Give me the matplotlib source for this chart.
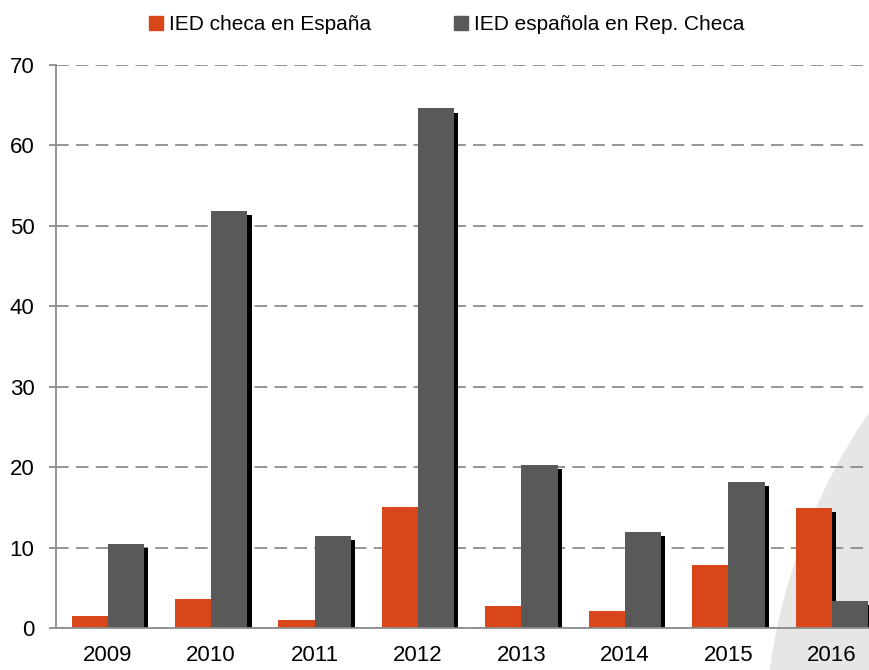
import matplotlib.pyplot as plt
import matplotlib.patheffects as pe
from matplotlib.patches import Ellipse
from matplotlib.lines import Line2D
import numpy as np

years = ['2009', '2010', '2011', '2012', '2013', '2014', '2015', '2016']
ied_checa = [1.5, 3.6, 1.0, 15.0, 2.7, 2.1, 7.8, 14.9]
ied_espanola = [10.5, 51.9, 11.5, 64.6, 20.3, 11.9, 18.2, 3.4]
yticks = [0, 10, 20, 30, 40, 50, 60, 70]

orange = '#d9461a'
gray = '#595959'

plt.rcParams['font.family'] = ['Liberation Sans', 'DejaVu Sans']

fig = plt.figure(figsize=(8.7, 6.7), dpi=100)

# light grey decoration in the lower right corner
r = 601
deco = Ellipse((1365 / 870, 1 - 752 / 670), 2 * r / 870, 2 * r / 670,
               transform=fig.transFigure, facecolor='#e6e6e6', edgecolor='none', zorder=-5)
fig.patches.append(deco)

ax = fig.add_axes([56 / 870, 1 - 628 / 670, 1 - 56 / 870, (628 - 65) / 670])
ax.patch.set_alpha(0)

x = np.arange(len(years))
w = 0.35
shadow = [pe.SimplePatchShadow(offset=(3, -3), shadow_rgbFace='black', alpha=1.0), pe.Normal()]
ax.bar(x - w / 2, ied_checa, w, color=orange, zorder=3, path_effects=shadow)
ax.bar(x + w / 2, ied_espanola, w, color=gray, zorder=4, path_effects=shadow)

ax.set_xlim(-0.5, 7.37)
ax.set_ylim(0, 70)
ax.set_yticks(yticks)
ax.set_xticks(x)
ax.set_xticklabels(years)
ax.yaxis.grid(True, linestyle=(0, (7, 4)), color='#8c8c8c', linewidth=1.3, zorder=1)
ax.set_axisbelow(True)

for s in ['top', 'right']:
    ax.spines[s].set_visible(False)
ax.spines['left'].set_color('#8c8c8c')
ax.spines['bottom'].set_color('#8c8c8c')
ax.spines['left'].set_linewidth(1.3)
ax.spines['bottom'].set_linewidth(1.3)
ax.spines['bottom'].set_zorder(5)
ax.tick_params(axis='y', length=5, color='#8c8c8c', width=1.3, labelsize=16, pad=10.5)
ax.tick_params(axis='x', length=0, labelsize=16, pad=12)

handles = [Line2D([], [], marker='s', linestyle='none', color=orange, markersize=9.4),
           Line2D([], [], marker='s', linestyle='none', color=gray, markersize=9.4)]
fig.legend(handles, ['IED checa en España', 'IED española en Rep. Checa'],
           loc='center', bbox_to_anchor=(445 / 870, 1 - 25 / 670), ncol=2, frameon=False,
           fontsize=15, handletextpad=0.1, columnspacing=3.85, handlelength=1.0)

fig.savefig('out.png', dpi=100)
